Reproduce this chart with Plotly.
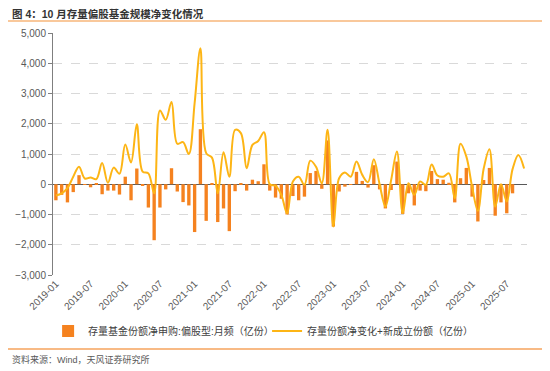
import plotly.graph_objects as go

months = [f"{y}-{m:02d}" for y in range(2019, 2026) for m in range(1, 13)][:82]

net_subscription = [
    -530, -350, -600, -260, 300, -20, -100, 30, -330, -210, -210, -340,
    250, -530, 520, -30, -770, -1850, -770, -170, 530, -240, -590, -700,
    -1580, 1820, -1210, 20, -1250, -800, -1550, -230, 30, -210, 150, 100,
    660, -210, -440, -480, -1000, -390, -530, -410, 370, 440, -150, 1450,
    -1400, -240, -80, -10, 410, 110, -110, 630, -170, -800, -190, 750,
    -980, -300, -700, -210, -230, 440, 170, 150, 50, -600, 200, 540,
    -410, -1230, 140, 540, -1040, -600, -960, -300, None, None,
]

net_change_plus_new = [
    -370, -300, -130, 250, 580, 190, 220, 170, 700, 50, 550, 350,
    1310, 720, 1980, 420, 360, -300, 2440, 2130, 2720, 1340, 1390, 1000,
    2680, 4500, 1030, 880, -300, 1060, 250, 1800, 1690, 530, 1300, 1430,
    1720, 0, -50, -350, -960, 90, 250, -20, 780, 580, 30, 1800,
    -1400, 200, 390, 250, 750, 310, 70, 830, 0, -740, 140, 1080,
    -960, 30, -350, 90, -20, 650, 290, 250, 360, -460, 1340, 920,
    -80, -880, 510, 1160, -740, 0, -570, 500, 970, 520,
]

tick_labels = [m for m in months if m.endswith("-01") or m.endswith("-07")]
y_ticks = [-3000, -2000, -1000, 0, 1000, 2000, 3000, 4000, 5000]

FONT = "Liberation Sans, Arial, Noto Sans CJK SC, sans-serif"

fig = go.Figure()
fig.add_trace(go.Bar(
    x=months, y=net_subscription,
    name="存量基金份额净申购:偏股型:月频（亿份）",
    marker=dict(color="#F5821F", line=dict(width=0)),
    legend="legend",
))
fig.add_trace(go.Scatter(
    x=months, y=net_change_plus_new, mode="lines",
    name="存量份额净变化+新成立份额（亿份）",
    line=dict(color="#FDB515", width=2, shape="spline", smoothing=1.0),
    legend="legend2",
))

legend_common = dict(
    orientation="h", yanchor="middle", xanchor="left",
    xref="container", yref="container",
    font=dict(size=10, color="#404040"),
    bgcolor="rgba(0,0,0,0)", borderwidth=0,
)

# page has an 8px body margin, so the figure is 542x363 placed at (8, 8)
fig.update_layout(
    width=542, height=363,
    margin=dict(l=45, r=23, t=25, b=96, autoexpand=False),
    paper_bgcolor="white", plot_bgcolor="white",
    font=dict(family=FONT, size=10, color="#595959"),
    bargap=0.42,
    showlegend=True,
    legend=dict(x=0.074, y=0.110, **legend_common),
    legend2=dict(x=0.478, y=0.110, **legend_common),
    xaxis=dict(
        type="category", range=[-0.5, 81.5],
        tickmode="array", tickvals=tick_labels, ticktext=tick_labels,
        tickangle=-45, tickfont=dict(size=10, color="#595959"),
        showgrid=False, showline=False, ticks="",
    ),
    yaxis=dict(
        range=[-3000, 5000], tickvals=y_ticks, tickformat=",d",
        showgrid=True, gridcolor="#D9D9D9", griddash="dash", gridwidth=1,
        zeroline=True, zerolinecolor="#595959", zerolinewidth=1,
        showline=True, linecolor="#7F7F7F", linewidth=1,
        ticks="outside", ticklen=4, tickcolor="#7F7F7F",
        tickfont=dict(size=10, color="#595959"),
    ),
)

fig.add_annotation(
    text="<b>图 4：10 月存量偏股基金规模净变化情况</b>",
    xref="paper", yref="paper", x=-0.091, y=1.077,
    xanchor="left", yanchor="middle", showarrow=False,
    font=dict(size=10.5, color="#333333"),
)
fig.add_shape(type="line", xref="paper", yref="paper",
              x0=-0.095, x1=1.038, y0=1.05, y1=1.05,
              line=dict(color="#F9C89B", width=2))
fig.add_shape(type="line", xref="paper", yref="paper",
              x0=-0.095, x1=1.038, y0=-0.306, y1=-0.306,
              line=dict(color="#F6A35C", width=1.5))
fig.add_annotation(
    text="资料来源：Wind，天风证券研究所",
    xref="paper", yref="paper", x=-0.091, y=-0.351,
    xanchor="left", yanchor="middle", showarrow=False,
    font=dict(size=9, color="#595959"),
)

fig.write_html("out.html")
